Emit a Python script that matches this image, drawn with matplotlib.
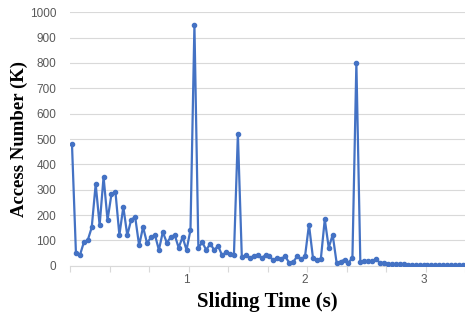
import numpy as np
import matplotlib
matplotlib.use("Agg")
import matplotlib.pyplot as plt
from matplotlib.ticker import FixedLocator

# ==========================
# Data
# ==========================

access_k = [
    480, 51, 41, 92, 101, 151, 322, 160, 351, 180,
    283, 292, 121, 232, 120, 182, 192, 80, 153, 89,
    112, 122, 62, 133, 91, 112, 122, 71, 113, 62,
    141, 950, 71, 92, 62, 87, 62, 78, 41, 53,
    46, 42, 520, 33, 42, 32, 37, 41, 30, 42,
    37, 21, 32, 28, 37, 11, 14, 37, 25, 37,
    162, 32, 21, 26, 183, 71, 122, 11, 16, 24,
    11, 32, 800, 16, 18, 18, 18, 25, 11, 11,
    7, 5, 5, 5, 7, 3, 3, 2, 2, 2,
    2, 1, 1, 1, 1, 1, 1, 1, 1, 1,
]
frame_step = 1 / 30  # seconds per sliding window
time_s = [(i + 1) * frame_step for i in range(len(access_k))]

x_labels = ["1", "2", "3"]
x_label_pos = [1, 2, 3]

# ==========================
# Chart
# ==========================

fig = plt.figure(figsize=(4.65, 3.2), dpi=100)
ax = fig.add_axes([70 / 465, (320 - 265.7) / 320, 395 / 465, 253.4 / 320])

ax.plot(time_s, access_k, color="#4472C4", linewidth=1.6,
        marker="o", markersize=3, zorder=3)

ax.set_xlim(time_s[0] - frame_step / 2, time_s[-1] + frame_step / 2)
ax.set_ylim(0, 1000)
ax.set_yticks(range(0, 1001, 100))
ax.grid(axis="y", color="#D9D9D9", linewidth=0.8)
ax.set_axisbelow(True)

# labels at 1,2,3 without tick marks, tick marks every 10 windows
ax.set_xticks(x_label_pos)
ax.set_xticklabels(x_labels)
ax.tick_params(axis="x", which="major", length=0, pad=6)
boundaries = [time_s[0] - frame_step / 2 + k * 10 * frame_step for k in range(11)]
ax.xaxis.set_minor_locator(FixedLocator(boundaries))
ax.tick_params(axis="x", which="minor", length=4, color="#D9D9D9", width=0.8)
ax.tick_params(axis="y", length=0, pad=10)

for lbl in ax.get_xticklabels() + ax.get_yticklabels():
    lbl.set_fontfamily("Liberation Sans")
    lbl.set_fontsize(8.5)
    lbl.set_color("#595959")

for s in ["top", "right", "left"]:
    ax.spines[s].set_visible(False)
ax.spines["bottom"].set_color("#D9D9D9")
ax.spines["bottom"].set_linewidth(0.8)

ax.set_xlabel("Sliding Time (s)", fontfamily="Liberation Serif",
              fontweight="bold", fontsize=15, labelpad=4)
ax.set_ylabel("Access Number (K)", fontfamily="Liberation Serif",
              fontweight="bold", fontsize=13.5, labelpad=1)

fig.savefig("out.png", dpi=100)
